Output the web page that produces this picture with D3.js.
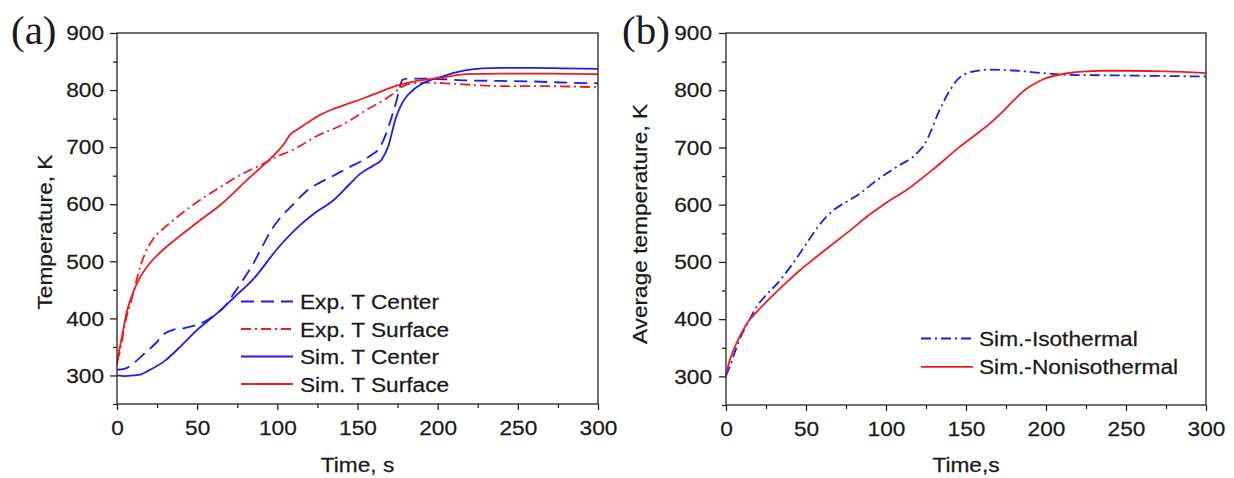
<!DOCTYPE html>
<html>
<head>
<meta charset="utf-8">
<script src="https://cdn.jsdelivr.net/npm/d3@7/dist/d3.min.js"></script>
<style>
  html, body { margin: 0; padding: 0; background: #ffffff; }
  svg { display: block; }
  text { font-family: "Liberation Sans", Arial, sans-serif; fill: #1a1a1a; }
</style>
</head>
<body>
<script>
// ---- Panel (a): centre / surface temperature during heating ----
const expCenterTime = [0, 5, 11, 17, 24, 30, 35, 42, 49, 55, 62, 67, 72, 78, 85, 91, 97, 103, 109, 114, 119, 126, 135, 145, 152, 158, 164, 168, 171, 174, 176, 178, 182, 190, 203, 218, 240, 260, 280, 300];
const expCenterTemp = [310, 312, 323, 338, 356, 374, 380, 383, 388, 395, 408, 420, 440, 465, 496, 528, 558, 580, 597, 612, 625, 637, 650, 665, 675, 685, 700, 725, 750, 778, 800, 818, 820, 820, 819, 817, 816, 815, 813, 812];

const expSurfaceTime = [0, 2, 5, 9, 15, 18, 22, 30, 40, 52, 61, 70, 83, 92, 100, 108, 114, 125, 139, 150, 156, 165, 170, 178, 185, 195, 210, 239, 260, 300];
const expSurfaceTemp = [325, 344, 391, 432, 495, 517, 537, 560, 583, 608, 624, 640, 660, 672, 684, 693, 702, 720, 737, 755, 766, 780, 789, 806, 812, 813, 811, 807, 807, 805];

const simCenterTime = [0, 5, 10, 15, 20, 30, 40, 50, 60, 72, 86, 100, 114, 124, 135, 145, 152, 160, 165, 169, 174, 178, 181, 185, 189, 195, 203, 210, 218, 228, 240, 260, 280, 300];
const simCenterTemp = [300, 299, 300, 302, 309, 326, 352, 380, 403, 434, 472, 522, 563, 586, 607, 635, 654, 668, 678, 700, 752, 778, 790, 801, 809, 817, 824, 830, 835, 838, 839, 839, 838, 837];

const simSurfaceTime = [0, 1, 3, 6, 10, 15, 20, 26, 35, 50, 65, 82, 90, 100, 104, 108, 112, 120, 127, 135, 145, 155, 164, 176, 185, 195, 205, 218, 240, 270, 300];
const simSurfaceTemp = [318, 338, 367, 410, 445, 475, 495, 513, 535, 568, 600, 645, 665, 692, 705, 722, 730, 745, 757, 767, 777, 787, 797, 809, 815, 819, 823, 828, 829, 829, 828];

// ---- Panel (b): average temperature ----
const isoTime = [0, 3, 6, 9, 14, 19, 25, 32, 38, 44, 51, 59, 67, 76, 84, 92, 100, 109, 117, 121, 124, 128, 132, 136, 140, 143, 146, 150, 155, 165, 182, 198, 213, 240, 270, 300];
const isoTemp = [301, 322, 346, 368, 395, 421, 442, 462, 483, 506, 535, 567, 590, 606, 620, 638, 654, 670, 684, 695, 705, 728, 756, 780, 800, 813, 822, 829, 833, 836, 834, 830, 827, 826, 825, 824];

const nonIsoTime = [0, 2, 5, 9, 13, 20, 28, 37, 46, 57, 67, 78, 88, 100, 113, 130, 146, 155, 165, 172, 178, 183, 188, 194, 200, 208, 217, 226, 234, 250, 275, 300];
const nonIsoTemp = [301, 325, 348, 372, 392, 415, 438, 462, 485, 510, 532, 556, 579, 603, 626, 663, 701, 720, 742, 760, 777, 791, 803, 813, 821, 827, 831, 833, 834, 834, 833, 830];

// ---- Axis ticks and labels ----
const xMajorTicks = [0, 50, 100, 150, 200, 250, 300];
const xMinorTicks = [25, 75, 125, 175, 225, 275];
const yMajorTicks = [300, 400, 500, 600, 700, 800, 900];
const yMinorTicks = [250, 350, 450, 550, 650, 750, 850];

const legendA = ["Exp. T Center", "Exp. T Surface", "Sim. T Center", "Sim. T Surface"];
const legendB = ["Sim.-Isothermal", "Sim.-Nonisothermal"];

const BLUE = "#1c1cf0";
const RED = "#f01c1c";
const DASH = "13,7";
const DASHDOT = "10,4,2,4";
const STRETCH = 1.08;   // the lettering is a little wider than plain Arial
const FONT_PX = 21;

const W = 1234, H = 478;
const svg = d3.select("body").append("svg").attr("width", W).attr("height", H);

function zip(ts, vs) { return ts.map((t, i) => ({ t, v: vs[i] })); }

function stretchedText(g, x, y, str, opts = {}) {
  const rot = opts.rotate ? ` rotate(${opts.rotate})` : "";
  return g.append("text")
    .attr("transform", `translate(${x},${y})${rot} scale(${STRETCH},1)`)
    .attr("text-anchor", opts.anchor || "start")
    .style("font-size", FONT_PX + "px")
    .style("stroke", "#1a1a1a").style("stroke-width", 0.25)
    .text(str);
}

function drawPanel(box, series, legend, yTitle, yTitleX, yTitleY, xTitle, letter, letterX) {
  const x = d3.scaleLinear().domain([0, 300]).range([box.left, box.right]);
  const y = d3.scaleLinear().domain([250, 900]).range([box.bottom, box.top]);
  const g = svg.append("g");

  // minor ticks
  g.append("g").attr("transform", `translate(0,${box.bottom})`)
    .call(d3.axisBottom(x).tickValues(xMinorTicks).tickSize(4).tickFormat(""))
    .call(s => s.select(".domain").remove());
  g.append("g").attr("transform", `translate(${box.left},0)`)
    .call(d3.axisLeft(y).tickValues(yMinorTicks).tickSize(4).tickFormat(""))
    .call(s => s.select(".domain").remove());

  // major ticks with labels
  const xa = g.append("g").attr("transform", `translate(0,${box.bottom})`)
    .call(d3.axisBottom(x).tickValues(xMajorTicks).tickSize(6).tickPadding(10).tickFormat(d3.format("d")));
  xa.select(".domain").remove();
  xa.selectAll("text").style("font-size", FONT_PX + "px").style("font-family", "Liberation Sans, Arial, sans-serif")
    .attr("fill", "#1a1a1a").style("stroke", "#1a1a1a").style("stroke-width", 0.25)
    .attr("transform", `scale(${STRETCH},1)`);

  const ya = g.append("g").attr("transform", `translate(${box.left},0)`)
    .call(d3.axisLeft(y).tickValues(yMajorTicks).tickSize(7).tickPadding(6).tickFormat(d3.format("d")));
  ya.select(".domain").remove();
  ya.selectAll("text").style("font-size", FONT_PX + "px").style("font-family", "Liberation Sans, Arial, sans-serif")
    .attr("fill", "#1a1a1a").style("stroke", "#1a1a1a").style("stroke-width", 0.25)
    .attr("x", -(box.yLabelGap) / STRETCH).attr("transform", `scale(${STRETCH},1)`);

  g.selectAll(".tick line").attr("stroke", "#222").attr("stroke-width", 1.3);

  // curves
  const line = d3.line().x(d => x(d.t)).y(d => y(d.v)).curve(d3.curveMonotoneX);
  const plot = g.append("g");
  series.forEach(s => {
    plot.append("path")
      .datum(zip(s.t, s.v))
      .attr("d", line)
      .attr("fill", "none")
      .attr("stroke", s.color)
      .attr("stroke-width", 1.8)
      .attr("stroke-dasharray", s.dash || null)
      .attr("stroke-linejoin", "round");
  });

  // frame
  g.append("rect")
    .attr("x", box.left).attr("y", box.top)
    .attr("width", box.right - box.left).attr("height", box.bottom - box.top)
    .attr("fill", "none").attr("stroke", "#333").attr("stroke-width", 1.4);

  // legend
  const lg = g.append("g");
  legend.labels.forEach((lab, i) => {
    const s = series[legend.order[i]];
    const cy = legend.top + i * legend.step;
    lg.append("line")
      .attr("x1", legend.x1).attr("x2", legend.x2).attr("y1", cy).attr("y2", cy)
      .attr("stroke", s.color).attr("stroke-width", 1.8)
      .attr("stroke-dasharray", s.dash || null);
    stretchedText(lg, legend.textX, cy + 7.5, lab);
  });

  // titles
  stretchedText(g, yTitleX, yTitleY, yTitle, { anchor: "middle", rotate: -90 });
  stretchedText(g, (box.left + box.right) / 2, 472, xTitle, { anchor: "middle" });

  g.append("text")
    .attr("x", letterX).attr("y", 44)
    .style("font-family", "Liberation Serif, 'Times New Roman', serif")
    .style("font-size", "41px")
    .text(letter);
}

drawPanel(
  { left: 117, top: 33, right: 598, bottom: 404, yLabelGap: 13 },
  [
    { t: expCenterTime, v: expCenterTemp, color: BLUE, dash: DASH },
    { t: expSurfaceTime, v: expSurfaceTemp, color: RED, dash: DASHDOT },
    { t: simCenterTime, v: simCenterTemp, color: BLUE },
    { t: simSurfaceTime, v: simSurfaceTemp, color: RED }
  ],
  { labels: legendA, order: [0, 1, 2, 3], x1: 241, x2: 293, textX: 300, top: 301.5, step: 27.5 },
  "Temperature, K", 52, 232, "Time, s", "(a)", 11
);

drawPanel(
  { left: 726, top: 33, right: 1206, bottom: 405, yLabelGap: 14 },
  [
    { t: isoTime, v: isoTemp, color: BLUE, dash: DASHDOT },
    { t: nonIsoTime, v: nonIsoTemp, color: RED }
  ],
  { labels: legendB, order: [0, 1], x1: 921, x2: 973, textX: 979, top: 338.5, step: 28.3 },
  "Average temperature, K", 647, 224, "Time,s", "(b)", 622
);
</script>
</body>
</html>
